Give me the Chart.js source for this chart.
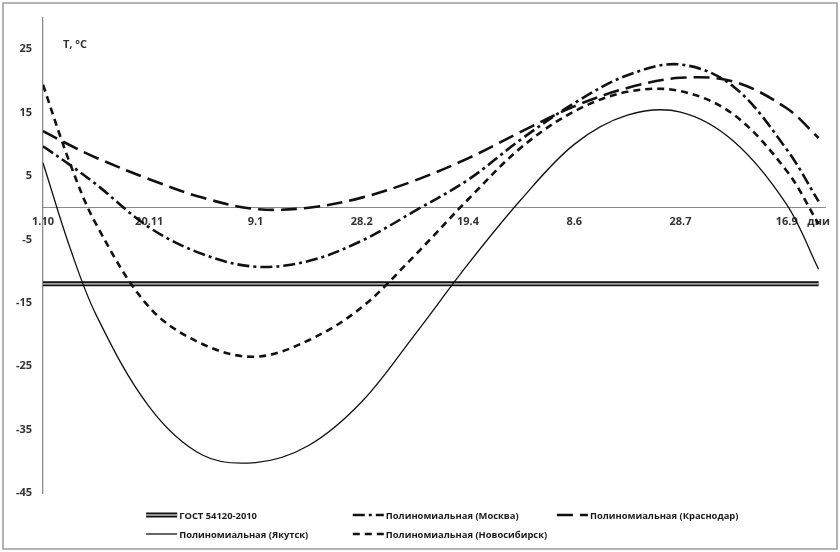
<!DOCTYPE html>
<html>
<head>
<meta charset="utf-8">
<script src="https://cdn.jsdelivr.net/npm/chart.js@4/dist/chart.umd.min.js"></script>
<style>
	html, body { margin: 0; padding: 0; background: #fff; }
	#wrap { width: 840px; height: 552px; position: relative; }
</style>
</head>
<body>
<div id="wrap"><canvas id="myChart"></canvas></div>
<script>
const DAYS = [0, 12.5, 25, 50, 75, 100, 125, 150, 175, 200, 225, 250, 275, 300, 325, 350, 365];
const TICK_DAYS = [0, 50, 100, 150, 200, 250, 300, 350, 365];
const TICK_LABELS = ["1.10", "20.11", "9.1", "28.2", "19.4", "8.6", "28.7", "16.9", "дни"];
const Y_TICKS = [-45, -35, -25, -15, -5, 5, 15, 25];

const GOST_DAYS = [0, 365];
const GOST = [-12, -12];
const YAKUTSK = [7.1, -6.1, -16.9, -31.4, -39.0, -40.2, -37.5, -30.6, -20.0, -8.9, 1.3, 10.0, 14.6, 15.1, 10.5, 0.5, -9.7];
const MOSCOW = [9.7, 6.8, 3.7, -3.1, -7.3, -9.3, -8.4, -5.2, -0.5, 4.4, 10.8, 16.5, 20.9, 22.6, 19.1, 9.2, 1.0];
const KRASNODAR = [12.1, 9.9, 7.9, 4.5, 1.6, -0.2, 0.0, 1.6, 4.3, 7.8, 12.0, 16.0, 18.9, 20.5, 19.9, 15.7, 11.0];
const NOVOSIBIRSK = [19.4, 7.2, -2.6, -15.7, -21.5, -23.5, -20.9, -15.7, -7.5, 1.3, 9.5, 15.2, 18.3, 18.4, 14.7, 5.8, -2.6];

const FONT = "'Open Sans', 'DejaVu Sans', sans-serif";

function pts(xs, ys) {
	return ys.map((y, i) => ({ x: xs[i], y: y }));
}

// legend drawn as a grid, like the excel one (3 columns, 2 rows)
const LEGEND_ROWS = [[0, 2, 3], [4, 5]];
const gridLegend = {
	id: "gridLegend",
	afterDraw(chart) {
		let ctx = chart.ctx;
		let cols = [0.174, 0.42, 0.663].map(f => f * chart.width);
		let rows = [chart.height - 37, chart.height - 18];
		ctx.save();
		ctx.font = "bold 9.4px " + FONT;
		ctx.textBaseline = "middle";
		LEGEND_ROWS.forEach((row, r) => {
			row.forEach((idx, c) => {
				let ds = chart.data.datasets[idx];
				let x = cols[c], y = rows[r];
				ctx.beginPath();
				ctx.setLineDash(ds.borderDash || []);
				ctx.lineWidth = ds.borderWidth;
				ctx.strokeStyle = ds.borderColor;
				ctx.moveTo(x, y);
				ctx.lineTo(x + 31, y);
				ctx.stroke();
				if (ds.inner) {
					ctx.beginPath();
					ctx.setLineDash([]);
					ctx.lineWidth = 1.3;
					ctx.strokeStyle = ds.inner;
					ctx.moveTo(x, y);
					ctx.lineTo(x + 31, y);
					ctx.stroke();
				}
				ctx.fillStyle = "#1a1a1a";
				ctx.fillText(ds.label, x + 33, y + 1);
			});
		});
		ctx.restore();
	}
};

const frame = {
	id: "frame",
	afterDraw(chart) {
		let ctx = chart.ctx;
		ctx.save();
		ctx.strokeStyle = "#9a9a9a";
		ctx.lineWidth = 1.5;
		ctx.strokeRect(3, 3, chart.width - 6, chart.height - 6);
		// axis caption
		ctx.font = "bold 11px " + FONT;
		ctx.fillStyle = "#333";
		ctx.textBaseline = "middle";
		ctx.fillText("T, °C", chart.chartArea.left + 20, chart.chartArea.top + 27);
		ctx.restore();
	}
};

function createChart() {
	let ctx = document.getElementById("myChart");
	let data = {
		datasets: [{
			label: "ГОСТ 54120-2010",
			data: pts(GOST_DAYS, GOST),
			borderColor: "#111",
			borderWidth: 5,
			inner: "#d8d8d8",
			order: 3
		}, {
			label: "gost-inner",
			data: pts(GOST_DAYS, GOST),
			borderColor: "#d8d8d8",
			borderWidth: 1.3,
			order: 2
		}, {
			label: "Полиномиальная (Москва)",
			data: pts(DAYS, MOSCOW),
			borderColor: "#111",
			borderWidth: 2.6,
			borderDash: [12, 4, 3, 4]
		}, {
			label: "Полиномиальная (Краснодар)",
			data: pts(DAYS, KRASNODAR),
			borderColor: "#111",
			borderWidth: 2.6,
			borderDash: [16, 7]
		}, {
			label: "Полиномиальная (Якутск)",
			data: pts(DAYS, YAKUTSK),
			borderColor: "#111",
			borderWidth: 1.3
		}, {
			label: "Полиномиальная (Новосибирск)",
			data: pts(DAYS, NOVOSIBIRSK),
			borderColor: "#111",
			borderWidth: 2.6,
			borderDash: [7, 5]
		}]
	};
	let options = {
		responsive: true,
		maintainAspectRatio: false,
		animation: false,
		layout: { padding: { left: 0, right: 15, top: 15, bottom: 59 } },
		elements: {
			point: { radius: 0 },
			line: { tension: 0.35, fill: false }
		},
		plugins: {
			legend: { display: false },
			tooltip: { enabled: false }
		},
		scales: {
			x: {
				type: "linear",
				min: 0,
				max: 368,
				position: { y: 0 },
				grid: { display: false, drawTicks: false },
				border: { display: true, color: "#8a8a8a", width: 1 },
				afterBuildTicks: s => { s.ticks = TICK_DAYS.map(v => ({ value: v })); },
				ticks: {
					autoSkip: false,
					maxRotation: 0,
					padding: 7,
					color: "#333",
					font: { family: FONT, size: 11, weight: "bold" },
					callback: (v, i) => TICK_LABELS[i]
				}
			},
			y: {
				min: -45,
				max: 30,
				grid: { display: false, drawTicks: false },
				border: { display: true, color: "#8a8a8a", width: 1.3 },
				afterBuildTicks: s => { s.ticks = Y_TICKS.map(v => ({ value: v })); },
				afterFit: s => { s.width = 43; },
				ticks: {
					padding: 11,
					color: "#333",
					font: { family: FONT, size: 11, weight: "bold" }
				}
			}
		}
	};
	return new Chart(ctx, {
		type: "line",
		data: data,
		options: options,
		plugins: [gridLegend, frame]
	});
}

createChart();
</script>
</body>
</html>
